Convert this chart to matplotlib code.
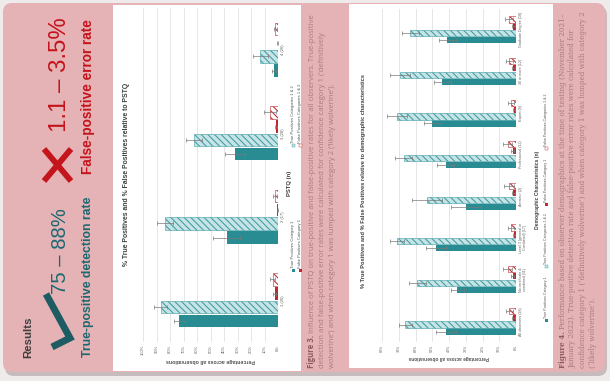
import numpy as np
import matplotlib
matplotlib.use('Agg')
import matplotlib.pyplot as plt
from matplotlib.patches import FancyBboxPatch, Rectangle

# ---------------- data ----------------
pstq_cats = ["1 (26)", "2 (17)", "3 (28)", "4 (26)"]
pstq_tp1 = [73, 38, 32, 3]
pstq_tp1_err = [4, 10, 7.5, 1.5]
pstq_tp12 = [87, 84, 62, 13]
pstq_tp12_err = [4.5, 6, 6, 5.5]
pstq_fp1 = [2.5, 0.5, 1.5, 0.3]
pstq_fp1_err = [1, 0.5, 1, 0.3]
pstq_fp12 = [4, 2.5, 6, 2]
pstq_fp12_err = [2, 1.5, 4.5, 1]
pstq_ticks = list(range(0, 101, 10))

demo_cats = ["All observers (28)", "No certificate &\ncombined (11)",
             "Level 3 (general or\nCombined) (17)", "Amateur (2)",
             "Professional (12)", "Expert (9)", "30 or more (12)",
             "Graduate Degree (18)"]
demo_tp1 = [42, 35, 48, 30, 42, 50, 44, 41]
demo_tp1_err = [6, 4, 6, 9, 5, 5, 5, 5]
demo_tp12 = [66, 59, 71, 53, 67, 71, 69, 63]
demo_tp12_err = [4, 5, 4, 9, 5, 6, 6, 5]
demo_fp1 = [1.5, 2, 1, 1.5, 2, 1, 1.5, 1.5]
demo_fp1_err = [1, 1, 0.5, 1, 1, 0.5, 1, 1]
demo_fp12 = [4, 5, 3, 4, 5, 3, 4, 4]
demo_fp12_err = [2, 2.5, 2, 3, 2.5, 2, 2, 2.5]
demo_ticks = list(range(0, 81, 10))

legend_labels = ["True Positives Category 1", "True Positives Categories 1 & 2",
                 "False Positives Category 1", "False Positives Categories 1 & 2"]

# ---------------- style ----------------
W, H = 610, 381
PINK = '#e5b2b5'
TEAL = '#2a8c93'
TEAL_LIGHT = '#c6e4e6'
TEAL_HATCH = '#3f9ca2'
RED = '#c0272d'
TXT_TEAL = '#1d6870'
TXT_RED = '#c4141c'
CAP = '#a77d81'
CAP_B = '#8d5960'
HATCH = '\\\\\\\\\\'
plt.rcParams['hatch.linewidth'] = 0.75
plt.rcParams['font.family'] = ['Liberation Sans', 'DejaVu Sans']

fig = plt.figure(figsize=(W / 100, H / 100), dpi=100)
fig.patch.set_facecolor('#efebeb')
bg = fig.add_axes([0, 0, 1, 1], zorder=0)
bg.set_xlim(0, W)
bg.set_ylim(H, 0)
bg.axis('off')
renderer = fig.canvas.get_renderer()

bg.add_patch(FancyBboxPatch((5, 6), 602, 370, boxstyle='round,pad=0,rounding_size=9',
                            fc='#c7bcbd', ec='none'))
bg.add_patch(FancyBboxPatch((3, 3), 602, 369, boxstyle='round,pad=0,rounding_size=9',
                            fc=PINK, ec='none'))
bg.add_patch(Rectangle((113, 5), 188, 366, fc='white', ec='none'))
bg.add_patch(Rectangle((349, 4), 204, 364, fc='white', ec='none'))


def length(t):
    return t.get_window_extent(renderer).height


def fitted(x, y, s, target, fs0=10, **kw):
    t = bg.text(x, y, s, rotation=90, fontsize=fs0, **kw)
    t.set_fontsize(fs0 * target / length(t))
    return t


# ---------------- left column ----------------
fitted(28, 337, 'Results', 41, ha='center', va='center', fontweight='bold', color='#3d3d3d')
bg.plot([46, 70, 52], [294, 338, 347], color='#1d5c63', lw=5,
        solid_capstyle='butt', solid_joinstyle='miter')
fitted(60, 251, '75 – 88%', 86, ha='center', va='center', color=TXT_TEAL)
fitted(88, 277, 'True-positive detection rate', 160, ha='center', va='center',
       fontweight='bold', color=TXT_TEAL)
bg.plot([44, 71], [149, 181], color=TXT_RED, lw=4.2, solid_capstyle='butt')
bg.plot([44, 71], [181, 149], color=TXT_RED, lw=4.2, solid_capstyle='butt')
fitted(60, 75, '1.1 – 3.5%', 114, ha='center', va='center', color=TXT_RED)
fitted(88, 97, 'False-positive error rate', 155, ha='center', va='center',
       fontweight='bold', color=TXT_RED)


def rect_px(x0, y0, x1, y1):
    return [x0 / W, 1 - y1 / H, (x1 - x0) / W, (y1 - y0) / H]


def chart(rect, cats, tp1, tp1e, tp12, tp12e, fp1, fp1e, fp12, fp12e, ticks, fs):
    ax = fig.add_axes(rect, zorder=2)
    ax.set_facecolor('none')
    y = np.arange(len(cats))
    h = 0.15
    offs = [-0.25, -0.08, 0.08, 0.25]
    ax.barh(y + offs[0], tp1, height=h, color=TEAL, zorder=2)
    ax.barh(y + offs[1], tp12, height=h, facecolor=TEAL_LIGHT, edgecolor=TEAL_HATCH,
            hatch=HATCH, linewidth=0.4, zorder=2)
    ax.barh(y + offs[2], fp1, height=h, color=RED, zorder=2)
    ax.barh(y + offs[3], fp12, height=h, facecolor='white', edgecolor=RED,
            hatch=HATCH, linewidth=0.4, zorder=2)
    for vals, errs, off in [(tp1, tp1e, offs[0]), (tp12, tp12e, offs[1]),
                            (fp1, fp1e, offs[2]), (fp12, fp12e, offs[3])]:
        ax.errorbar(vals, y + off, xerr=errs, fmt='none', ecolor='#7a7a7a',
                    elinewidth=0.5, capsize=1.2, capthick=0.5, zorder=3)
    ax.set_xlim(max(ticks), 0)
    ax.set_ylim(-0.5, len(cats) - 0.5)
    ax.set_xticks(ticks)
    ax.set_xticklabels([f'{t}%' for t in ticks], rotation=90, fontsize=fs, color='#606060')
    ax.yaxis.tick_right()
    ax.set_yticks(y)
    ax.set_yticklabels(cats, rotation=90, fontsize=fs, color='#606060',
                       va='center', multialignment='center')
    ax.tick_params(length=0, pad=2)
    ax.grid(axis='x', color='#dcdcdc', lw=0.5)
    ax.set_axisbelow(True)
    for s in ax.spines.values():
        s.set_visible(False)
    ax.set_xlabel('Percentage across all observations', rotation=180, fontsize=fs + 0.8,
                  fontweight='bold', color='#505050', labelpad=2)
    return ax


ax1 = chart(rect_px(143, 8, 278, 342), pstq_cats, pstq_tp1, pstq_tp1_err, pstq_tp12,
            pstq_tp12_err, pstq_fp1, pstq_fp1_err, pstq_fp12, pstq_fp12_err, pstq_ticks, 3.0)
ax2 = chart(rect_px(382, 9, 516, 342), demo_cats, demo_tp1, demo_tp1_err, demo_tp12,
            demo_tp12_err, demo_fp1, demo_fp1_err, demo_fp12, demo_fp12_err, demo_ticks, 2.6)

fitted(127, 174, '% True Positives and % False Positives relative to PSTQ', 182,
       ha='center', va='center', fontweight='bold', color='#404040')
bg.text(289, 183, 'PSTQ (n)', rotation=90, ha='center', va='center', fontsize=4.2,
        fontweight='bold', color='#404040')
fitted(363, 181, '% True Positives and % False Positives relative to demographic characteristics',
       212, ha='center', va='center', fontweight='bold', color='#404040')
bg.text(537, 190, 'Demographic Characteristics (n)', rotation=90, ha='center', va='center',
        fontsize=3.6, fontweight='bold', color='#404040')


def marker(x, y, k):
    if k == 0:
        bg.add_patch(Rectangle((x - 1.5, y - 3), 3, 3, fc=TEAL, ec='none'))
    elif k == 1:
        bg.add_patch(Rectangle((x - 1.5, y - 3), 3, 3, fc=TEAL_LIGHT, ec=TEAL_HATCH, lw=0.3))
    elif k == 2:
        bg.add_patch(Rectangle((x - 1.5, y - 3), 3, 3, fc=RED, ec='none'))
    else:
        bg.add_patch(Rectangle((x - 1.5, y - 3), 3, 3, fc='white', ec=RED, lw=0.3))


def legend_item(x, y, k, fs):
    marker(x, y, k)
    t = bg.text(x, y - 4, legend_labels[k], rotation=90, ha='center', va='bottom',
                fontsize=fs, color='#505050')
    return length(t) + 4


# chart 1 legend (2 x 2)
legend_item(293, 272, 0, 3.0)
legend_item(300, 272, 2, 3.0)
legend_item(293, 147, 1, 3.0)
legend_item(300, 147, 3, 3.0)

# chart 2 legend (one row)
yy = 322
for k in range(4):
    yy -= legend_item(546, yy, k, 2.6) + 8


def caption(x, y, bold, rest, family, target=None, fs=None):
    if target is not None:
        probe = bg.text(0, 0, (bold + ' ' if bold else '') + rest, rotation=90,
                        fontsize=10, family=family)
        fs = 10 * target / length(probe)
        probe.remove()
    y0 = y
    if bold:
        t = bg.text(x, y0, bold, rotation=90, ha='center', va='bottom', fontsize=fs,
                    fontweight='bold', color=CAP_B, family=family)
        y0 -= length(t) + fs * 0.35
    bg.text(x, y0, rest, rotation=90, ha='center', va='bottom', fontsize=fs, color=CAP,
            family=family)
    return fs


f3 = ['Open Sans', 'DejaVu Sans']
fs3 = caption(312, 368, 'Figure 3.', 'Influence of PSTQ on true-positive and false-positive rates for all observers. True-positive', f3, target=352)
caption(322, 368, None, 'detection and false-positive error rates were calculated for confidence category 1 (‘definitively', f3, fs=fs3)
caption(332, 368, None, 'wolverine’) and when category 1 was lumped with category 2 (‘likely wolverine’).', f3, fs=fs3)

f4 = ['DejaVu Serif']
fs4 = caption(563, 368, 'Figure 4.', 'Performance based on observer demographics at the time of testing (November 2021–', f4, target=356)
caption(573, 368, None, 'January 2022). True-positive detection rate and false-positive error rates were calculated for', f4, fs=fs4)
caption(583, 368, None, 'confidence category 1 (‘definitively wolverine’) and when category 1 was lumped with category 2', f4, fs=fs4)
caption(593, 368, None, '(‘likely wolverine’).', f4, fs=fs4)

fig.savefig('out.png', dpi=100, facecolor=fig.get_facecolor())
